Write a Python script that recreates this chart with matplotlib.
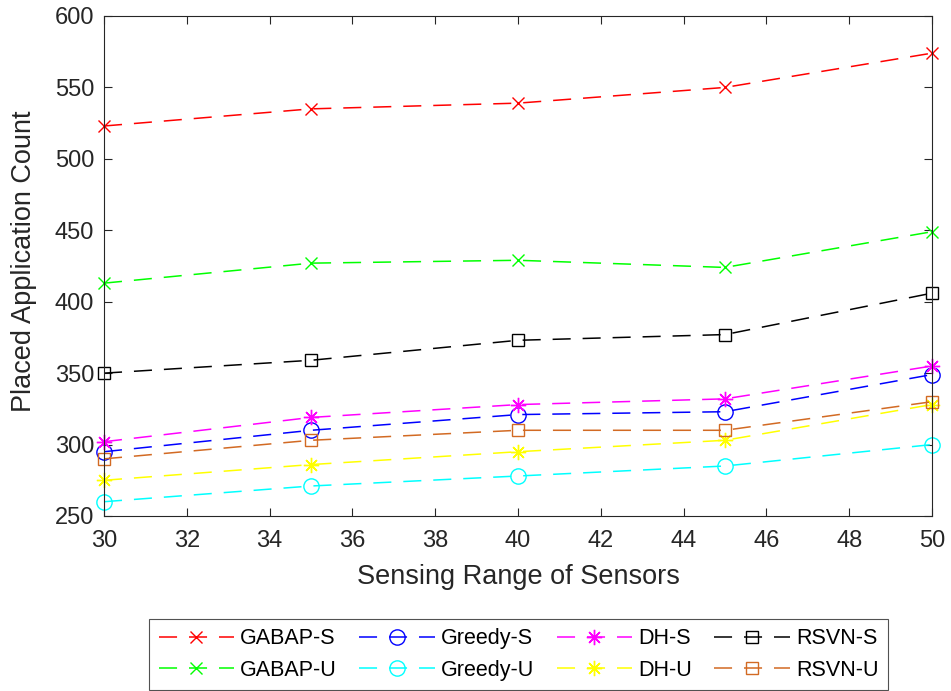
import matplotlib
matplotlib.use("Agg")
import matplotlib.pyplot as plt
from matplotlib.lines import Line2D

plt.rcParams['font.family'] = ['Liberation Sans', 'DejaVu Sans']

sensing_range = [30, 35, 40, 45, 50]

gabap_s = [523, 535, 539, 550, 574]
gabap_u = [413, 427, 429, 424, 449]
greedy_s = [295, 310, 321, 323, 349]
greedy_u = [260, 271, 278, 285, 300]
dh_s = [302, 319, 328, 332, 355]
dh_u = [275, 286, 295, 303, 328]
rsvn_s = [350, 359, 373, 377, 406]
rsvn_u = [290, 303, 310, 310, 330]

x_ticks = [30, 32, 34, 36, 38, 40, 42, 44, 46, 48, 50]
y_ticks = [250, 300, 350, 400, 450, 500, 550, 600]

asterisk = (8, 2, 0)
series = [
    ("GABAP-S", gabap_s, "#ff0000", "x", 9),
    ("GABAP-U", gabap_u, "#00ff00", "x", 9),
    ("Greedy-S", greedy_s, "#0000ff", "o", 11),
    ("Greedy-U", greedy_u, "#00ffff", "o", 11),
    ("DH-S", dh_s, "#ff00ff", asterisk, 11),
    ("DH-U", dh_u, "#ffff00", asterisk, 11),
    ("RSVN-S", rsvn_s, "#000000", "s", 9),
    ("RSVN-U", rsvn_u, "#d26a23", "s", 9),
]

fig = plt.figure(figsize=(9.51, 6.91), dpi=100)
ax = fig.add_axes([104 / 951, 1 - 516 / 691, (932 - 104) / 951, (516 - 16) / 691])

axis_color = "#262626"
lw = 1.1
dash = (0, (13 / lw, 8.6 / lw))
handles = []
for name, vals, color, mk, ms in series:
    ax.plot(sensing_range, vals, color=color, linestyle=dash, linewidth=lw,
            marker=mk, markersize=ms, markerfacecolor="none", markeredgecolor=color,
            markeredgewidth=1, clip_on=False)
    handles.append(Line2D([], [], color=color, linestyle=dash, linewidth=lw,
                          marker=mk, markersize=ms, markerfacecolor="none",
                          markeredgecolor=color, markeredgewidth=1, label=name))

ax.set_xlim(30, 50)
ax.set_ylim(250, 600)
ax.set_xticks(x_ticks)
ax.set_yticks(y_ticks)
ax.tick_params(direction="in", top=True, right=True, length=6, width=0.8,
               colors=axis_color, labelsize=17, pad=7)
ax.tick_params(axis="x", pad=10)
for sp in ax.spines.values():
    sp.set_color(axis_color)
    sp.set_linewidth(0.8)

ax.set_xlabel("Sensing Range of Sensors", fontsize=19.5, color=axis_color, labelpad=9)
ax.set_ylabel("Placed Application Count", fontsize=19.5, color=axis_color)
ax.yaxis.set_label_coords(-0.081, 0.51)

leg = fig.legend(handles=handles, ncol=4, loc="center",
                 bbox_to_anchor=(518.5 / 951, 1 - 654.5 / 691), fontsize=15.5,
                 frameon=True, fancybox=False, edgecolor=axis_color,
                 handlelength=3.5, handletextpad=0.28, columnspacing=1.05,
                 borderpad=0.45, labelspacing=0.49)
leg.get_frame().set_linewidth(0.8)

fig.savefig("out.png", dpi=100)
